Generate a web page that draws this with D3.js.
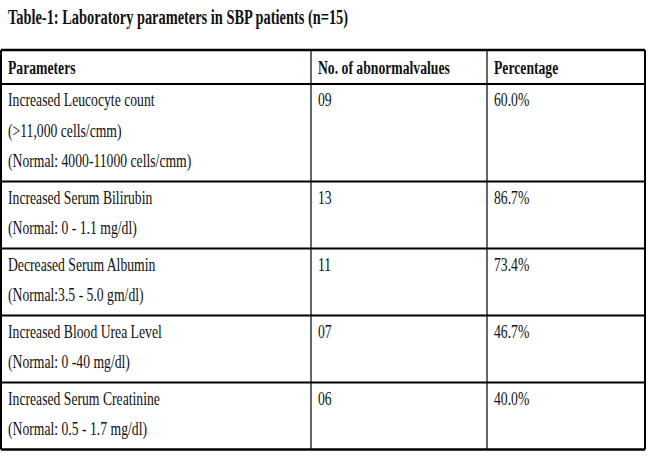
<!DOCTYPE html>
<html><head><meta charset="utf-8">
<script src="https://cdn.jsdelivr.net/npm/d3@7"></script>
<style>body{margin:0;background:#fff}</style>
</head><body>
<svg id="tbl" width="648" height="471"></svg>
<script>
const title = "Table-1: Laboratory parameters in SBP patients (n=15)";
const headers = ["Parameters", "No. of abnormalvalues", "Percentage"];
const parameters = [
  ["Increased Leucocyte count", "(>11,000 cells/cmm)", "(Normal: 4000-11000 cells/cmm)"],
  ["Increased Serum Bilirubin", "(Normal: 0 - 1.1 mg/dl)"],
  ["Decreased Serum Albumin", "(Normal:3.5 - 5.0 gm/dl)"],
  ["Increased Blood Urea Level", "(Normal: 0 -40 mg/dl)"],
  ["Increased Serum Creatinine", "(Normal: 0.5 - 1.7 mg/dl)"]
];
const counts = ["09", "13", "11", "07", "06"];
const percents = ["60.0%", "86.7%", "73.4%", "46.7%", "40.0%"];

const svg = d3.select("#tbl");
const colX = [1, 311, 487, 645];
const tableTop = 50, headH = 34, lineH = 30.5, pad = 6;
const sx = 0.72; // condensed look

// row boundaries
const rowY = [tableTop, tableTop + headH];
parameters.forEach(p => rowY.push(rowY[rowY.length - 1] + p.length * lineH + pad));

function txt(x, y, s, bold, size) {
  svg.append("text")
    .attr("transform", `translate(${x},${y}) scale(${sx},1)`)
    .attr("font-family", "Liberation Serif, Times New Roman, serif")
    .attr("font-size", size || 19)
    .attr("font-weight", bold ? "bold" : "normal")
    .attr("fill", "#111")
    .text(s);
}

txt(8, 24, title, true, 20);

// borders
rowY.forEach((y, i) => svg.append("line")
  .attr("x1", colX[0]).attr("x2", colX[3]).attr("y1", y).attr("y2", y)
  .attr("stroke", "#000").attr("stroke-width", i === 0 || i === rowY.length - 1 ? 2.5 : 2));
colX.forEach((x, i) => svg.append("line")
  .attr("x1", x).attr("x2", x).attr("y1", rowY[0]).attr("y2", rowY[rowY.length - 1])
  .attr("stroke", "#000").attr("stroke-width", i === 0 || i === 3 ? 2 : 1.2));

headers.forEach((h, i) => txt(colX[i] + 7, tableTop + 24, h, true, 19));

parameters.forEach((lines, r) => {
  const y0 = rowY[r + 1] + 22;
  lines.forEach((l, k) => txt(colX[0] + 7, y0 + k * lineH, l, false));
  txt(colX[1] + 7, y0, counts[r], false);
  txt(colX[2] + 7, y0, percents[r], false);
});
</script>
</body></html>
